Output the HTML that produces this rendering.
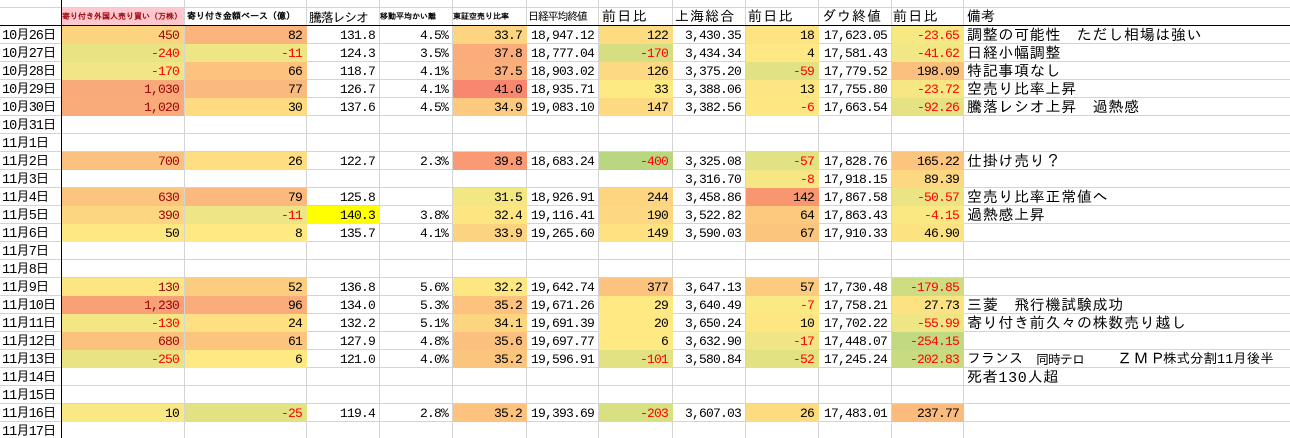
<!DOCTYPE html>
<html><head><meta charset="utf-8"><style>
*{margin:0;padding:0}
body{background:#fff;width:1290px;height:438px;overflow:hidden}
#s{position:relative;width:1290px;height:438px;overflow:hidden;background-color:#fff;background-image:linear-gradient(#d4d4d4 0,#d4d4d4 1px,transparent 1px);background-size:100% 18px;background-position:0 7px;font-family:"Liberation Mono","IPAGothic",monospace;color:#000}
.v{position:absolute;top:0;width:1px;height:438px;background:#d4d4d4}
.row{position:absolute;left:0;width:1290px;height:19px}
.row b{position:absolute;top:1px;height:18px;line-height:19px;font-weight:normal;font-size:13px;letter-spacing:-0.8px;text-align:right;padding-right:5px;box-sizing:border-box;white-space:nowrap}
.row b.k0{left:0;width:61px;text-align:left;padding:0 0 0 2px;top:2px;font-size:13.5px;letter-spacing:-1px}
.k1{left:62px;width:122px}
.k2{left:185px;width:122px}
.k3{left:307px;width:73px}
.k4{left:380px;width:73px}
.k5{left:453px;width:74px}
.k6{left:527px;width:72px}
.k7{left:599px;width:74px}
.k8{left:673px;width:73px}
.k9{left:746px;width:73px}
.k10{left:819px;width:73px}
.k11{left:892px;width:72px}
.row b.k12{left:964px;width:326px;text-align:left;padding:0 0 0 3px;top:2px;font-size:15px;letter-spacing:0.7px}
.row b.k12 span{position:absolute;top:0}
.r{color:#f00}
.d{color:#9c0006}
.h{position:absolute;top:10px;height:17px;line-height:17px;white-space:nowrap;font-size:14px}
.sm{font-size:8px;font-weight:bold;top:9px}
</style></head><body>
<div id="s">
<div class="v" style="left:184px"></div>
<div class="v" style="left:306px"></div>
<div class="v" style="left:379px"></div>
<div class="v" style="left:452px"></div>
<div class="v" style="left:526px"></div>
<div class="v" style="left:598px"></div>
<div class="v" style="left:672px"></div>
<div class="v" style="left:745px"></div>
<div class="v" style="left:818px"></div>
<div class="v" style="left:891px"></div>
<div class="v" style="left:963px"></div>

<div style="position:absolute;left:62px;top:8px;width:122px;height:17px;background:#FFC7CE"></div>
<div class="h sm d" style="left:62px">寄り付き外国人売り買い（万株）</div>
<div class="h sm" style="left:187px;font-size:9px">寄り付き金額ベース（億）</div>
<div class="h" style="left:309px;font-size:13px;letter-spacing:-1.2px">騰落レシオ</div>
<div class="h sm" style="left:380px">移動平均かい離</div>
<div class="h sm" style="left:453px">東証空売り比率</div>
<div class="h" style="left:528px;font-size:11px;letter-spacing:-1.2px">日経平均終値</div>
<div class="h" style="left:602px;letter-spacing:1.3px">前日比</div>
<div class="h" style="left:675px;letter-spacing:1px">上海総合</div>
<div class="h" style="left:748px;letter-spacing:1.3px">前日比</div>
<div class="h" style="left:822px;letter-spacing:1px">ダウ終値</div>
<div class="h" style="left:893px;letter-spacing:1.3px">前日比</div>
<div class="h" style="left:967px">備考</div>

<div class="row" style="top:25px">
<b class="k0">10月26日</b>
<b class="k1 d" style="background:#FCD47F">450</b>
<b class="k2" style="background:#FBB57C">82</b>
<b class="k3">131.8</b>
<b class="k4">4.5%</b>
<b class="k5" style="background:#FDD580">33.7</b>
<b class="k6">18,947.12</b>
<b class="k7" style="background:#FDDC81">122</b>
<b class="k8">3,430.35</b>
<b class="k9" style="background:#FEE382">18</b>
<b class="k10">17,623.05</b>
<b class="k11 r" style="background:#F6E984">-23.65</b>
<b class="k12">調整の可能性　ただし相場は強い</b>
</div>

<div class="row" style="top:43px">
<b class="k0">10月27日</b>
<b class="k1 r" style="background:#EAE384">-240</b>
<b class="k2 r" style="background:#EEE584">-11</b>
<b class="k3">124.3</b>
<b class="k4">3.5%</b>
<b class="k5" style="background:#FAAC7A">37.8</b>
<b class="k6">18,777.04</b>
<b class="k7 r" style="background:#D5DF82">-170</b>
<b class="k8">3,434.34</b>
<b class="k9" style="background:#FEE883">4</b>
<b class="k10">17,581.43</b>
<b class="k11 r" style="background:#F1E784">-41.62</b>
<b class="k12">日経小幅調整</b>
</div>

<div class="row" style="top:61px">
<b class="k0">10月28日</b>
<b class="k1 r" style="background:#F0E686">-170</b>
<b class="k2" style="background:#FCC27E">66</b>
<b class="k3">118.7</b>
<b class="k4">4.1%</b>
<b class="k5" style="background:#FAAF7B">37.5</b>
<b class="k6">18,903.02</b>
<b class="k7" style="background:#FDDA81">126</b>
<b class="k8">3,375.20</b>
<b class="k9 r" style="background:#E1E283">-59</b>
<b class="k10">17,779.52</b>
<b class="k11" style="background:#FBC07E">198.09</b>
<b class="k12">特記事項なし</b>
</div>

<div class="row" style="top:79px">
<b class="k0">10月29日</b>
<b class="k1 d" style="background:#F9AA7A">1,030</b>
<b class="k2" style="background:#FBBA7D">77</b>
<b class="k3">126.7</b>
<b class="k4">4.1%</b>
<b class="k5" style="background:#F8876F">41.0</b>
<b class="k6">18,935.71</b>
<b class="k7" style="background:#FEEA83">33</b>
<b class="k8">3,388.06</b>
<b class="k9" style="background:#FEE583">13</b>
<b class="k10">17,755.80</b>
<b class="k11 r" style="background:#F6E784">-23.72</b>
<b class="k12">空売り比率上昇</b>
</div>

<div class="row" style="top:97px">
<b class="k0">10月30日</b>
<b class="k1 d" style="background:#F9AB7A">1,020</b>
<b class="k2" style="background:#FEDB81">30</b>
<b class="k3">137.6</b>
<b class="k4">4.5%</b>
<b class="k5" style="background:#FCCA7F">34.9</b>
<b class="k6">19,083.10</b>
<b class="k7" style="background:#FDD981">147</b>
<b class="k8">3,382.56</b>
<b class="k9 r" style="background:#FDE783">-6</b>
<b class="k10">17,663.54</b>
<b class="k11 r" style="background:#E4E283">-92.26</b>
<b class="k12">騰落レシオ上昇　過熱感</b>
</div>

<div class="row" style="top:115px"><b class="k0">10月31日</b></div>
<div class="row" style="top:133px"><b class="k0">11月1日</b></div>

<div class="row" style="top:151px">
<b class="k0">11月2日</b>
<b class="k1 d" style="background:#FBC17E">700</b>
<b class="k2" style="background:#FEDE81">26</b>
<b class="k3">122.7</b>
<b class="k4">2.3%</b>
<b class="k5" style="background:#F99A75">39.8</b>
<b class="k6">18,683.24</b>
<b class="k7 r" style="background:#B9D780">-400</b>
<b class="k8">3,325.08</b>
<b class="k9 r" style="background:#E1E283">-57</b>
<b class="k10">17,828.76</b>
<b class="k11" style="background:#FCC57E">165.22</b>
<b class="k12">仕掛け売り？</b>
</div>

<div class="row" style="top:169px">
<b class="k0">11月3日</b>
<b class="k8">3,316.70</b>
<b class="k9 r" style="background:#F6E784">-8</b>
<b class="k10">17,918.15</b>
<b class="k11" style="background:#FDD881">89.39</b>
</div>

<div class="row" style="top:187px">
<b class="k0">11月4日</b>
<b class="k1 d" style="background:#FBC47F">630</b>
<b class="k2" style="background:#FBB97D">79</b>
<b class="k3">125.8</b>
<b class="k5" style="background:#F3E685">31.5</b>
<b class="k6">18,926.91</b>
<b class="k7" style="background:#FDD580">244</b>
<b class="k8">3,458.86</b>
<b class="k9" style="background:#F8966F">142</b>
<b class="k10">17,867.58</b>
<b class="k11 r" style="background:#EBE384">-50.57</b>
<b class="k12">空売り比率正常値へ</b>
</div>

<div class="row" style="top:205px">
<b class="k0">11月5日</b>
<b class="k1 d" style="background:#FCD680">390</b>
<b class="k2 r" style="background:#EEE584">-11</b>
<b class="k3" style="background:#FFFF00">140.3</b>
<b class="k4">3.8%</b>
<b class="k5" style="background:#FDE582">32.4</b>
<b class="k6">19,116.41</b>
<b class="k7" style="background:#FDD880">190</b>
<b class="k8">3,522.82</b>
<b class="k9" style="background:#FCC97F">64</b>
<b class="k10">17,863.43</b>
<b class="k11 r" style="background:#FAE883">-4.15</b>
<b class="k12">過熱感上昇</b>
</div>

<div class="row" style="top:223px">
<b class="k0">11月6日</b>
<b class="k1" style="background:#FDE883">50</b>
<b class="k2" style="background:#FEE983">8</b>
<b class="k3">135.7</b>
<b class="k4">4.1%</b>
<b class="k5" style="background:#FCD380">33.9</b>
<b class="k6">19,265.60</b>
<b class="k7" style="background:#FEE282">149</b>
<b class="k8">3,590.03</b>
<b class="k9" style="background:#FCC57E">67</b>
<b class="k10">17,910.33</b>
<b class="k11" style="background:#FDE282">46.90</b>
</div>

<div class="row" style="top:241px"><b class="k0">11月7日</b></div>
<div class="row" style="top:259px"><b class="k0">11月8日</b></div>

<div class="row" style="top:277px">
<b class="k0">11月9日</b>
<b class="k1 d" style="background:#FDE582">130</b>
<b class="k2" style="background:#FCCD7F">52</b>
<b class="k3">136.8</b>
<b class="k4">5.6%</b>
<b class="k5" style="background:#FDE783">32.2</b>
<b class="k6">19,642.74</b>
<b class="k7" style="background:#FCC37E">377</b>
<b class="k8">3,647.13</b>
<b class="k9" style="background:#FCCB7F">57</b>
<b class="k10">17,730.48</b>
<b class="k11 r" style="background:#CFDD82">-179.85</b>
</div>

<div class="row" style="top:295px">
<b class="k0">11月10日</b>
<b class="k1 d" style="background:#F8A076">1,230</b>
<b class="k2" style="background:#FAAD7B">96</b>
<b class="k3">134.0</b>
<b class="k4">5.3%</b>
<b class="k5" style="background:#FCC27E">35.2</b>
<b class="k6">19,671.26</b>
<b class="k7" style="background:#FEE983">29</b>
<b class="k8">3,640.49</b>
<b class="k9 r" style="background:#FBE983">-7</b>
<b class="k10">17,758.21</b>
<b class="k11" style="background:#FDE282">27.73</b>
<b class="k12">三菱　飛行機試験成功</b>
</div>

<div class="row" style="top:313px">
<b class="k0">11月11日</b>
<b class="k1 r" style="background:#F2E685">-130</b>
<b class="k2" style="background:#FEDF81">24</b>
<b class="k3">132.2</b>
<b class="k4">5.1%</b>
<b class="k5" style="background:#FCD580">34.1</b>
<b class="k6">19,691.39</b>
<b class="k7" style="background:#FEE983">20</b>
<b class="k8">3,650.24</b>
<b class="k9" style="background:#FEE783">10</b>
<b class="k10">17,702.22</b>
<b class="k11 r" style="background:#EEE584">-55.99</b>
<b class="k12">寄り付き前久々の株数売り越し</b>
</div>

<div class="row" style="top:331px">
<b class="k0">11月12日</b>
<b class="k1 d" style="background:#FBC27E">680</b>
<b class="k2" style="background:#FCC57E">61</b>
<b class="k3">127.9</b>
<b class="k4">4.8%</b>
<b class="k5" style="background:#FCC07E">35.6</b>
<b class="k6">19,697.77</b>
<b class="k7" style="background:#FEE983">6</b>
<b class="k8">3,632.90</b>
<b class="k9 r" style="background:#F0E584">-17</b>
<b class="k10">17,448.07</b>
<b class="k11 r" style="background:#C1D980">-254.15</b>
</div>

<div class="row" style="top:349px">
<b class="k0">11月13日</b>
<b class="k1 r" style="background:#E9E384">-250</b>
<b class="k2" style="background:#FEE983">6</b>
<b class="k3">121.0</b>
<b class="k4">4.0%</b>
<b class="k5" style="background:#FCC57E">35.2</b>
<b class="k6">19,596.91</b>
<b class="k7 r" style="background:#E3E283">-101</b>
<b class="k8">3,580.84</b>
<b class="k9 r" style="background:#E3E283">-52</b>
<b class="k10">17,245.24</b>
<b class="k11 r" style="background:#C9DB81">-202.83</b>
<b class="k12"><span style="left:3px;font-size:14px;letter-spacing:0">フランス</span><span style="left:72px;font-size:13px;letter-spacing:-1px">同時テロ</span><span style="left:153px;letter-spacing:1.5px">ＺＭＰ</span><span style="left:199px;font-size:13.5px;letter-spacing:0">株式分割11月後半</span></b>
</div>

<div class="row" style="top:367px">
<b class="k0">11月14日</b>
<b class="k12">死者130人超</b>
</div>

<div class="row" style="top:385px"><b class="k0">11月15日</b></div>

<div class="row" style="top:403px">
<b class="k0">11月16日</b>
<b class="k1" style="background:#F8E984">10</b>
<b class="k2 r" style="background:#E2E283">-25</b>
<b class="k3">119.4</b>
<b class="k4">2.8%</b>
<b class="k5" style="background:#FCC27E">35.2</b>
<b class="k6">19,393.69</b>
<b class="k7 r" style="background:#D9E082">-203</b>
<b class="k8">3,607.03</b>
<b class="k9" style="background:#FDDB81">26</b>
<b class="k10">17,483.01</b>
<b class="k11" style="background:#FBBB7D">237.77</b>
</div>

<div class="row" style="top:421px"><b class="k0">11月17日</b></div>

<div style="position:absolute;left:0;top:25px;width:1290px;height:1px;background:#000"></div>
<div style="position:absolute;left:61px;top:0;width:1px;height:438px;background:#000"></div>
</div>
</body></html>
